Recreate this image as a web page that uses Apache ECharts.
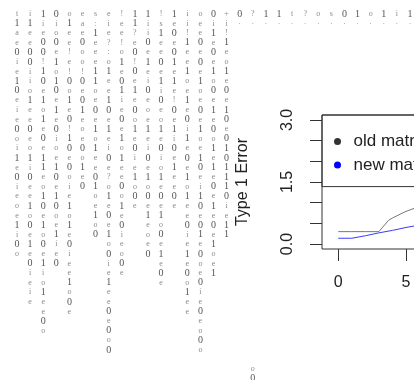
<!DOCTYPE html>
<html>
<head>
<meta charset="utf-8">
<script src="https://cdn.jsdelivr.net/npm/echarts@6/dist/echarts.min.js"></script>
<style>
  html, body { margin: 0; padding: 0; background: #fff; }
  #chart { width: 414px; height: 380px; }
</style>
</head>
<body>
<div id="chart"></div>
<script>
// Printed matrix columns, one string per column, read top to bottom
const glyphColumns = [
  't1ae0ie10eie0oi1e0ieoe1i0o',
  'i1ee00iio1ee0eo1i0ee1o0e1e0ieie',
  '1ie00!10e1o1e0e11eo10e1o0e1io1ee0o',
  '0io0e1o10e1e0ioe10e10oe1ie0',
  'o1ee!e!0o1e0!10e0oie1o1e0iee1o0e',
  'eae0oo!0e01eoe0o1e0',
  's:1eee11oe0e1o1ee01oe1o0',
  'eie?:o1ee10e1ei0e?o1e0e1o0ie1ee0e0o0',
  '!ee!o1e01ie0e1o1ee0o1e0ieo0e',
  '11?e0!0e1e0o1e0ie1o0e',
  '1ii0e1ei0eoe1ei0e1o0e1eoe0',
  '!s1ee0e1i0eo1e0io1e0e1o0e1e0e',
  '1e0e01e1e!0e1i0e1ee0e',
  'ii!1ee1oe1e0i1e0e1o1ee0ie1e0o1ee',
  'oee0e0e1oe0e1oe10ei10e01e0oe0ie0eo0o',
  '0i1e0e1o0e1e0o1e1e0e1e0e1oe1',
  '+i!1eo1e0e10e0101110ie11',
  '0·', '?·', '1·', '1·', 't·', '?·', 'o·',
  's·', '0·', '1·', 'o·', '1·', 'i·', '1·'
];
// Two glyphs printed well below the rest: [column, row, glyph]
const strayGlyphs = [[18, 37, 'o'], [18, 38, '0']];

// Type 1 error against the matrix parameter
const oldX = [0, 1, 2, 3, 3.7, 4, 5, 6];
const oldY = [0.30, 0.30, 0.30, 0.30, 0.57, 0.63, 0.79, 0.91];
const newX = [0, 1, 2, 3, 4, 5, 6];
const newY = [0.14, 0.14, 0.20, 0.27, 0.33, 0.40, 0.46];
const xTicks = [0, 5, 10, 15, 20, 25, 30];
const yTicks = [0, 0.5, 1, 1.5, 2, 2.5, 3];
const yLabels = [0, 1.5, 3];
const seriesNames = ['old matrix', 'new matrix'];

// Glyph grid spacing in pixels
const colStart = 17, colStep = 13.1, rowStart = 14, rowStep = 9.6;
const W = 414, H = 380;

const glyphCells = [];
glyphColumns.forEach(function (col, k) {
  for (let r = 0; r < col.length; r++) {
    if (col[r] !== ' ') glyphCells.push([k, r, col[r]]);
  }
});
strayGlyphs.forEach(function (g) { glyphCells.push(g); });

const FONT = '"Liberation Sans", Arial, sans-serif';
const chart = echarts.init(document.getElementById('chart'));

const gxMin = -colStart / colStep, gyMin = -rowStart / rowStep;

chart.setOption({
  animation: false,
  backgroundColor: '#fff',
  grid: [
    { left: 322, top: 115, width: 439, height: 134, show: true, borderColor: '#333', borderWidth: 1,
      outerBoundsMode: 'none', containLabel: false },
    { left: 0, top: 0, width: W, height: H, outerBoundsMode: 'none', containLabel: false }
  ],
  legend: {
    orient: 'vertical', left: 322, top: 115,
    padding: [18, 60, 13, 12],
    itemWidth: 22, itemHeight: 7, itemGap: 6.6,
    icon: 'circle',
    borderColor: '#333', borderWidth: 1,
    textStyle: { fontSize: 17, fontFamily: FONT, color: '#222', lineHeight: 15 },
    data: [
      { name: seriesNames[0], itemStyle: { color: '#333' } },
      { name: seriesNames[1], itemStyle: { color: '#0000ff' } }
    ]
  },
  xAxis: [
    {
      type: 'value', gridIndex: 0, min: -1.2, max: 31.2,
      splitLine: { show: false },
      axisLine: { show: false, onZero: false },
      axisTick: { show: true, customValues: xTicks, length: 12, lineStyle: { color: '#333' } },
      axisLabel: { customValues: xTicks, fontSize: 16, fontFamily: FONT, color: '#222', margin: 26 }
    },
    { type: 'value', gridIndex: 1, min: gxMin, max: gxMin + W / colStep, show: false }
  ],
  yAxis: [
    {
      type: 'value', gridIndex: 0, min: -0.12, max: 3.12,
      splitLine: { show: false },
      axisLine: { show: false, onZero: false },
      axisTick: { show: true, customValues: yTicks, length: 12, lineStyle: { color: '#333' } },
      axisLabel: {
        customValues: yLabels, rotate: 90, fontSize: 16, fontFamily: FONT, color: '#222', margin: 26,
        formatter: function (v) { return v.toFixed(1); }
      },
      name: 'Type 1 Error', nameLocation: 'middle', nameRotate: 90, nameGap: 71,
      nameTextStyle: { fontSize: 16, fontFamily: FONT, color: '#222' }
    },
    { type: 'value', gridIndex: 1, min: gyMin, max: gyMin + H / rowStep, inverse: true, show: false }
  ],
  series: [
    {
      type: 'custom', xAxisIndex: 1, yAxisIndex: 1, silent: true,
      data: glyphCells.map(function (c) { return [c[0], c[1]]; }),
      renderItem: function (params, api) {
        const p = api.coord([api.value(0), api.value(1)]);
        const ch = glyphCells[params.dataIndex][2];
        const strong = ch === '0' || ch === '1';
        return {
          type: 'text', x: p[0], y: p[1],
          style: {
            text: ch, fill: strong ? '#555' : '#8a8a8a',
            font: (strong ? '10px' : '8px') + ' "Liberation Serif", serif',
            align: 'center', verticalAlign: 'middle'
          }
        };
      }
    },
    {
      name: seriesNames[0], type: 'line', xAxisIndex: 0, yAxisIndex: 0,
      data: oldX.map(function (x, i) { return [x, oldY[i]]; }),
      showSymbol: false, symbol: 'none',
      lineStyle: { color: '#777', width: 1 }, itemStyle: { color: '#777' }
    },
    {
      name: seriesNames[1], type: 'line', xAxisIndex: 0, yAxisIndex: 0,
      data: newX.map(function (x, i) { return [x, newY[i]]; }),
      showSymbol: false, symbol: 'none',
      lineStyle: { color: '#3a3aff', width: 1 }, itemStyle: { color: '#3a3aff' }
    }
  ]
});
</script>
</body>
</html>
